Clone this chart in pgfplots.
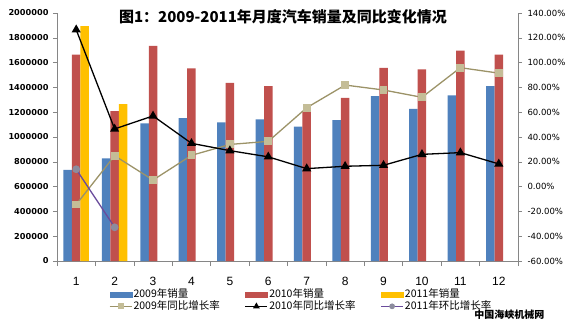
\documentclass[border=0pt]{standalone}
\usepackage{pgfplots}
\pgfplotsset{compat=1.18}
\usepackage{fontspec}
\setmainfont{DejaVu Sans}
\newfontfamily\cjk{Noto Sans CJK SC}
\newfontfamily\lib{Liberation Sans}
\definecolor{cA}{HTML}{4F81BD}
\definecolor{cB}{HTML}{C0504D}
\definecolor{cC}{HTML}{FFC000}
\definecolor{lA}{HTML}{9C9368}
\definecolor{mA}{HTML}{C4BD97}
\definecolor{lC}{HTML}{6A4C9C}
\definecolor{mC}{HTML}{8C8C9E}
\definecolor{axg}{HTML}{868686}
\pgfplotsset{
  linelegend/.style={legend image code/.code={\draw[##1] (0pt,0pt) -- (22pt,0pt); \draw[##1, mark size=#1] plot coordinates {(11pt,0pt)};}},
  barlegend/.style={legend image code/.code={\fill[#1] (0pt,-2.6pt) rectangle (22pt,2.6pt);}},
}
\pgfplotstableread{
x v
1 735500
2 827500
3 1109500
4 1152600
5 1117800
6 1141200
7 1083500
8 1136100
9 1330000
10 1226600
11 1334800
12 1411000
}\sA
\pgfplotstableread{
x v
1 1664100
2 1208400
3 1735800
4 1553000
5 1436700
6 1410000
7 1207600
8 1316000
9 1556800
10 1544700
11 1696300
12 1664400
}\sB
\pgfplotstableread{
x v
1 1894400
2 1265400
}\sC
\pgfplotstableread{
x v
1 -14.4
2 24.9
3 5.3
4 25.2
5 34.0
6 36.5
7 63.6
8 81.9
9 77.9
10 72.0
11 95.9
12 91.5
}\gA
\pgfplotstableread{
x v
1 126.5
2 46.5
3 57.0
4 34.9
5 29.0
6 24.0
7 14.5
8 16.4
9 17.2
10 26.0
11 27.4
12 18.3
}\gB
\pgfplotstableread{
x v
1 14.0
2 -32.8
}\gC
\begin{document}
\begin{tikzpicture}
\useasboundingbox (0pt,0pt) rectangle (571pt,325pt);
\begin{axis}[
  at={(57pt,64pt)}, anchor=south west, scale only axis,
  width=461pt, height=248pt,
  xmin=0.5, xmax=12.5, ymin=0, ymax=2000000,
  axis x line*=bottom, axis y line*=left,
  axis line style={draw=axg, line width=0.6pt},
  every tick/.style={draw=axg, line width=0.6pt},
  tick align=outside,
  ytick={0,200000,...,2000000},
  scaled y ticks=false,
  yticklabel style={font=\bfseries\fontsize{8.2}{9}\selectfont, /pgf/number format/fixed, /pgf/number format/1000 sep={}, /pgf/number format/assume math mode=true, xshift=-1pt},
  major tick length=4pt,
  xtick={1,...,12},
  major x tick style={draw=none},
  minor xtick={0.5,1.5,...,12.5},
  minor tick length=5pt,
  xticklabel style={font=\lib\fontsize{12}{14}\selectfont, /pgf/number format/assume math mode=true, yshift=-9pt},
  ybar, bar width=8.5pt,
]
\addplot[fill=cA, draw=none, bar shift=-8.5pt] table[x=x,y=v] {\sA};
\addplot[fill=cB, draw=none, bar shift=0pt] table[x=x,y=v] {\sB};
\addplot[fill=cC, draw=none, bar shift=8.5pt] table[x=x,y=v] {\sC};
\end{axis}
\begin{axis}[
  at={(57pt,64pt)}, anchor=south west, scale only axis,
  width=461pt, height=248pt,
  xmin=0.5, xmax=12.5, ymin=-60, ymax=140,
  axis x line=none, axis y line*=right,
  axis line style={draw=axg, line width=0.6pt},
  every tick/.style={draw=axg, line width=0.6pt},
  tick align=outside, major tick length=4pt,
  ytick={-60,-40,...,140},
  yticklabel={\pgfmathprintnumber[fixed,fixed zerofill,precision=2,assume math mode=true]{\tick}\%},
  yticklabel style={font=\fontsize{8.5}{10}\selectfont, xshift=2pt},
  legend columns=3,
  legend style={at={(0.106,-0.105)}, anchor=north west, draw=none, fill=none,
    font=\cjk\fontsize{10.5}{12}\selectfont,
    nodes={text height=7.5pt, text depth=1.5pt, inner sep=1.2pt, text width=110pt, align=left}},
  legend cell align=left,
]
\addlegendimage{barlegend=cA}
\addlegendentry{2009年销量}
\addlegendimage{barlegend=cB}
\addlegendentry{2010年销量}
\addlegendimage{barlegend=cC}
\addlegendentry{2011年销量}
\addplot[lA, line width=1.3pt, mark=square*, mark size=3.3pt, mark options={fill=mA, draw=mA}, linelegend=2.2pt]
  table[x=x,y=v] {\gA};
\addlegendentry{2009年同比增长率}
\addplot[black, line width=1.3pt, mark=triangle*, mark size=4pt, mark options={fill=black}, linelegend=2.6pt]
  table[x=x,y=v] {\gB};
\addlegendentry{2010年同比增长率}
\addplot[lC, line width=1.3pt, mark=*, mark size=3.2pt, mark options={fill=mC, draw=mC}, linelegend=2.2pt]
  table[x=x,y=v] {\gC};
\addlegendentry{2011年环比增长率}
\end{axis}
\node[font=\cjk\bfseries\fontsize{15}{18}\selectfont] at (283pt,308pt) {图1：2009-2011年月度汽车销量及同比变化情况};
\node[font=\cjk\bfseries\fontsize{10}{12}\selectfont, anchor=east] at (548pt,10pt) {中国海峡机械网};
\end{tikzpicture}
\end{document}
